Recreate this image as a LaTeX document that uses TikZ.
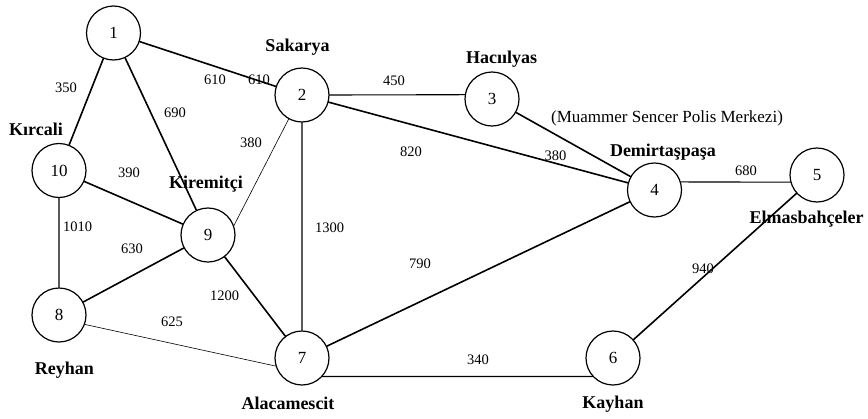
\documentclass[tikz,border=0pt]{standalone}
\usepackage{fontspec}
\setmainfont{Liberation Serif}
\begin{document}
\begin{tikzpicture}[x=1pt,y=-1pt,line join=round,line cap=round,
    place/.style={circle,draw,line width=1.2pt,minimum size=54pt,inner sep=0pt,font=\fontsize{17}{17}\selectfont},
    road/.style={line width=1.6pt},
    midroad/.style={line width=1.1pt},
    lane/.style={line width=0.6pt},
    dist/.style={inner sep=0pt,font=\fontsize{14.5}{15}\selectfont},
    town/.style={inner sep=0pt,font=\fontsize{18}{18}\selectfont\bfseries}]
    \useasboundingbox (0,0) rectangle (868,418);
    % places
    \node[place] (n1) at (113.5,33) {1};
    \node[place] (n2) at (302,95) {2};
    \node[place] (n3) at (492,99) {3};
    \node[place] (n4) at (654.5,190) {4};
    \node[place] (n5) at (817,175) {5};
    \node[place] (n6) at (613,358) {6};
    \node[place] (n7) at (302,358) {7};
    \node[place] (n8) at (59,315) {8};
    \node[place] (n9) at (208,235) {9};
    \node[place] (n10) at (59,170.5) {10};
    % roads
    \draw[road]
    (n1)--(n2) (n1)--(n10) (n1)--(n9)
    (n2)--(n4) (n3)--(n4) (n4)--(n7)
    (n5)--(n6) (n7)--(n9) (n8)--(n9) (n9)--(n10)
    ;
    \draw[midroad]
    (n2.east)--(n3.171) (n4.17)--(n5.195)
    (n2)--(n7) (n10)--(n8) (n7.-42)--(n6.-138)
    ;
    \draw[lane]
    (n2.241)--(n9.20) (n8.-20)--(n7.197)
    ;
    % distances
    \node[dist] (w110) at (66,88) {350};
    \node[dist] (w12a) at (215,79.5) {610};
    \node[dist] (w12b) at (259,79.5) {610};
    \node[dist] (w19) at (175,113) {690};
    \node[dist] (w29) at (251,143) {380};
    \node[dist] (w910) at (129,173) {390};
    \node[dist] (w23) at (394,81) {450};
    \node[dist] (w24) at (411,152) {820};
    \node[dist] (w34) at (555.5,156) {380};
    \node[dist] (w45) at (746,171) {680};
    \node[dist] (w810) at (77.5,227) {1010};
    \node[dist] (w89) at (132,249) {630};
    \node[dist] (w27) at (329.5,228) {1300};
    \node[dist] (w79) at (224.5,296) {1200};
    \node[dist] (w78) at (172,322) {625};
    \node[dist] (w47) at (420,264) {790};
    \node[dist] (w56) at (703,269) {940};
    \node[dist] (w67) at (478,360) {340};
    % names
    \node[town] (t2) at (297.5,47.5) {Sakarya};
    \node[town] (t10) at (36,129.5) {Kırcali};
    \node[town] (t9) at (206,184) {Kiremitçi};
    \node[town] (t3) at (501.5,59) {Hacıılyas};
    \node[inner sep=0pt,font=\fontsize{17}{17}\selectfont] (t3b) at (667,118) {(Muammer Sencer Polis Merkezi)};
    \node[town] (t4) at (663,152) {Demirtaşpaşa};
    \node[town] (t5) at (806.5,219) {Elmasbahçeler};
    \node[town] (t8) at (64.5,370) {Reyhan};
    \node[town] (t7) at (288,403) {Alacamescit};
    \node[town] (t6) at (613,404) {Kayhan};
\end{tikzpicture}
\end{document}
